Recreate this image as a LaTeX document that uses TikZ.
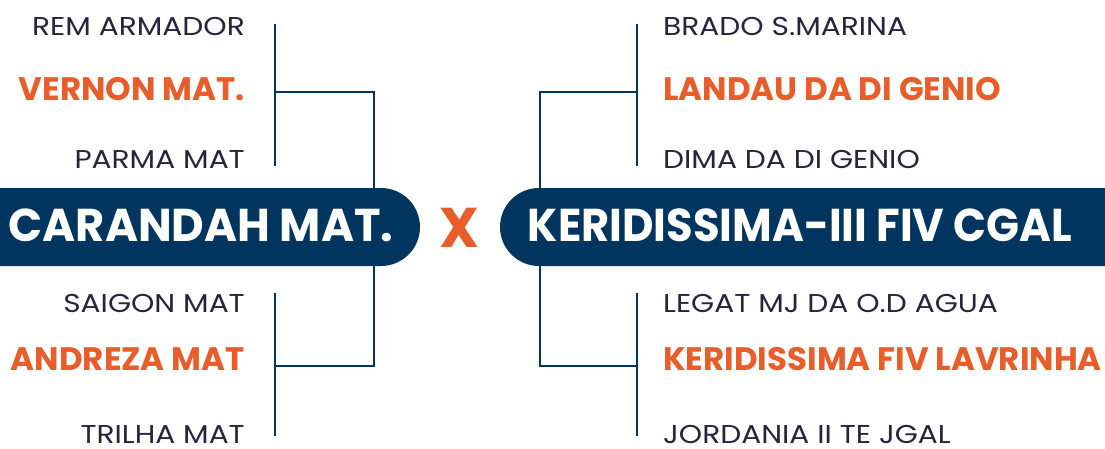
\documentclass[tikz,border=0pt]{standalone}
\usepackage{fontspec}
\setmainfont{Poppins}
\newfontfamily\regfont[FakeStretch=1.15]{Poppins}
\definecolor{navy}{HTML}{00355F}
\definecolor{orng}{HTML}{E95D2B}
\definecolor{ink}{HTML}{28243C}
\begin{document}
\begin{tikzpicture}[x=1pt,y=-1pt,
  entry/.style={inner sep=0pt, text=ink, font=\regfont\fontsize{25.8}{25.8}\selectfont},
  win/.style={inner sep=0pt, text=orng, font=\bfseries\fontsize{32.5}{32.5}\selectfont},
  pill/.style={fill=navy, rounded corners=39pt, minimum height=78pt, inner sep=0pt},
  pilltext/.style={inner sep=0pt, text=white, font=\bfseries\fontsize{46}{46}\selectfont},
  br/.style={draw=navy, line width=2pt}]
\useasboundingbox (0,0) rectangle (1105,448);
\clip (0,0) rectangle (1105,448);
% pills
\node[pill, minimum width=500pt] (lp) at (170,227) {};
\node[pill, minimum width=700pt] (rp) at (850,227) {};
\node[pilltext, anchor=base] (lt) at (201,241) {\scalebox{0.975}[1]{CARANDAH MAT.}};
\node[pilltext, anchor=base] (rt) at (800,241) {\scalebox{0.94}[1]{KERIDISSIMA-III FIV CGAL}};
\node[inner sep=0pt, text=orng, font=\bfseries\fontsize{56}{56}\selectfont, anchor=base] (vs) at (460,247) {X};
% left names
\node[entry, anchor=base east] (l1) at (245,35) {REM ARMADOR};
\node[win, anchor=base east] (l2) at (245,100) {VERNON MAT.};
\node[entry, anchor=base east] (l3) at (245,168) {PARMA MAT};
\node[entry, anchor=base east] (l4) at (245,312) {SAIGON MAT};
\node[win, anchor=base east] (l5) at (245,370) {ANDREZA MAT};
\node[entry, anchor=base east] (l6) at (245,443) {TRILHA MAT};
% right names
\node[entry, anchor=base west] (r1) at (663,35) {BRADO S.MARINA};
\node[win, anchor=base west] (r2) at (663,100) {LANDAU DA DI GENIO};
\node[entry, anchor=base west] (r3) at (663,168) {DIMA DA DI GENIO};
\node[entry, anchor=base west] (r4) at (663,312) {LEGAT MJ DA O.D AGUA};
\node[win, anchor=base west] (r5) at (663,370) {KERIDISSIMA FIV LAVRINHA};
\node[entry, anchor=base west] (r6) at (663,443) {JORDANIA II TE JGAL};
% bracket coordinates
\coordinate (a1) at (275,24); \coordinate (a2) at (275,166); \coordinate (am) at (275,92); \coordinate (aj) at (374,92);
\coordinate (b1) at (275,293); \coordinate (b2) at (275,436); \coordinate (bm) at (275,366); \coordinate (bj) at (374,366);
\coordinate (c1) at (637,24); \coordinate (c2) at (637,166); \coordinate (cm) at (637,92); \coordinate (cj) at (540,92);
\coordinate (d1) at (637,293); \coordinate (d2) at (637,436); \coordinate (dm) at (637,366); \coordinate (dj) at (540,366);
\draw[br] (a1) -- (a2);
\draw[br] (am) -- (aj) -- (aj |- lp.north);
\draw[br] (b1) -- (b2);
\draw[br] (bm) -- (bj) -- (bj |- lp.south);
\draw[br] (c1) -- (c2);
\draw[br] (cm) -- (cj) -- (cj |- rp.north);
\draw[br] (d1) -- (d2);
\draw[br] (dm) -- (dj) -- (dj |- rp.south);
\end{tikzpicture}
\end{document}
